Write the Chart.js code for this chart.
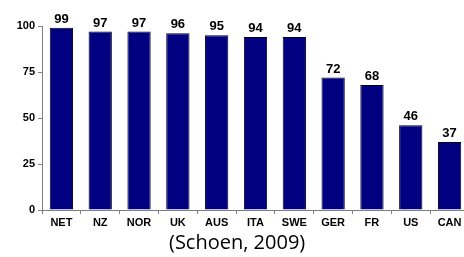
<!DOCTYPE html>
<html>
<head>
<meta charset="utf-8">
<script src="https://cdn.jsdelivr.net/npm/chart.js@4"></script>
<style>
  html, body { margin: 0; padding: 0; background: #fff; overflow: hidden; }
  #wrap { position: relative; width: 470px; height: 257px; }
  #caption { position: absolute; left: 169px; top: 228px; font-family: "Open Sans", sans-serif; font-size: 20px; color: #000; white-space: nowrap; }
</style>
</head>
<body>
<div id="wrap">
  <canvas id="myChart" width="470" height="257"></canvas>
  <div id="caption">(Schoen, 2009)</div>
</div>
<script>
var countries = ["NET", "NZ", "NOR", "UK", "AUS", "ITA", "SWE", "GER", "FR", "US", "CAN"];
var values = [99, 97, 97, 96, 95, 94, 94, 72, 68, 46, 37];
var yTicks = [0, 25, 50, 75, 100];

// draws the numbers above each bar
var valueLabels = {
  id: 'valueLabels',
  afterDatasetsDraw: function(chart) {
    var ctx = chart.ctx;
    var meta = chart.getDatasetMeta(0);
    ctx.save();
    ctx.font = 'bold 13px "Liberation Sans", Arial, sans-serif';
    ctx.fillStyle = '#000';
    ctx.textAlign = 'center';
    ctx.textBaseline = 'bottom';
    meta.data.forEach(function(bar, i) {
      ctx.fillText(values[i], bar.x, bar.y - 2);
    });
    ctx.restore();
  }
};

var ctx = document.getElementById('myChart').getContext('2d');
var myChart = new Chart(ctx, {
  type: 'bar',
  data: {
    labels: countries,
    datasets: [{
      data: values,
      backgroundColor: '#000080',
      borderColor: '#000022',
      borderWidth: 1,
      categoryPercentage: 1,
      barPercentage: 0.6
    }]
  },
  options: {
    responsive: false,
    animation: false,
    layout: { padding: { top: 26, right: 1, left: 0, bottom: 0 } },
    plugins: {
      legend: { display: false },
      tooltip: { enabled: false }
    },
    scales: {
      x: {
        grid: { drawOnChartArea: false, color: '#808080', tickLength: 4, offset: true },
        border: { color: '#808080' },
        ticks: {
          color: '#000',
          font: { family: '"Liberation Sans", Arial, sans-serif', size: 11, weight: 'bold' },
          padding: 2,
          maxRotation: 0,
          autoSkip: false
        },
        afterFit: function(scale) { scale.height = 47; }
      },
      y: {
        min: 0,
        max: 100,
        afterBuildTicks: function(scale) {
          scale.ticks = yTicks.map(function(v) { return { value: v }; });
        },
        grid: { drawOnChartArea: false, color: '#808080', tickLength: 4 },
        border: { color: '#808080' },
        ticks: {
          color: '#000',
          font: { family: '"Liberation Sans", Arial, sans-serif', size: 11, weight: 'bold' },
          padding: 3
        },
        afterFit: function(scale) { scale.width = 42; }
      }
    }
  },
  plugins: [valueLabels]
});
</script>
</body>
</html>
